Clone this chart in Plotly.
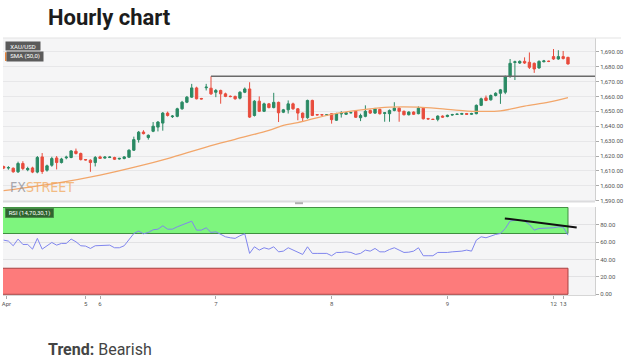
import plotly.graph_objects as go

# ---------------- data ----------------
candle_idx = list(range(118))

opens = [1612.9, 1612.0, 1611.8, 1609.4, 1615.0, 1610.8, 1612.0, 1609.2, 1619.4, 1610.5,
         1613.8, 1618.7, 1615.6, 1618.8, 1619.0, 1623.2, 1621.7, 1617.6, 1617.2, 1615.6,
         1619.4, 1618.6, 1619.0, 1619.0, 1618.0, 1618.3, 1619.2, 1623.9, 1631.0, 1636.1,
         1632.4, 1636.6, 1639.4, 1642.1, 1648.8, 1646.4, 1646.6, 1651.7, 1656.1, 1659.5,
         1665.7, 1658.6, 1665.8, 1665.5, 1662.8, 1664.0, 1661.7, 1660.1, 1660.0, 1658.8,
         1662.8, 1665.0, 1647.2, 1656.8, 1650.0, 1655.0, 1652.5, 1656.0, 1649.4, 1651.0,
         1655.0, 1651.7, 1648.8, 1645.7, 1657.3, 1647.8, 1647.7, 1647.6, 1648.4, 1644.0,
         1648.3, 1648.0, 1649.0, 1650.0, 1645.7, 1646.6, 1650.6, 1648.8, 1651.3, 1648.6,
         1648.4, 1650.6, 1652.1, 1650.0, 1647.7, 1649.5, 1648.4, 1652.1, 1645.1, 1644.7,
         1644.6, 1646.8, 1646.5, 1647.5, 1647.9, 1648.0, 1648.5, 1648.0, 1648.4, 1654.0,
         1659.0, 1657.7, 1660.6, 1662.1, 1662.8, 1673.3, 1682.8, 1682.4, 1683.5, 1682.9,
         1682.2, 1679.1, 1683.3, 1683.6, 1686.7, 1685.1, 1686.7, 1686.2]
highs = [1613.5, 1613.2, 1612.3, 1616.2, 1616.5, 1612.8, 1612.8, 1620.0, 1622.0, 1614.2,
         1619.5, 1620.0, 1618.8, 1620.2, 1624.0, 1625.0, 1622.3, 1618.0, 1617.8, 1620.0,
         1620.2, 1620.0, 1619.8, 1619.5, 1618.8, 1620.0, 1624.5, 1633.0, 1636.8, 1637.3,
         1634.5, 1642.8, 1643.5, 1649.5, 1649.8, 1647.5, 1652.4, 1657.0, 1660.3, 1668.4,
         1666.5, 1659.0, 1668.4, 1673.5, 1665.0, 1664.5, 1662.5, 1660.6, 1660.5, 1663.5,
         1666.0, 1669.5, 1657.5, 1660.0, 1655.8, 1655.6, 1662.4, 1656.5, 1651.6, 1657.3,
         1655.8, 1652.2, 1649.2, 1657.8, 1657.8, 1648.1, 1648.0, 1648.1, 1648.8, 1649.0,
         1650.1, 1649.5, 1649.5, 1650.5, 1648.4, 1654.0, 1651.2, 1652.3, 1651.8, 1649.5,
         1651.2, 1656.1, 1652.6, 1650.5, 1650.0, 1650.0, 1653.3, 1652.6, 1645.6, 1645.0,
         1647.3, 1647.3, 1647.8, 1648.3, 1648.5, 1649.0, 1648.9, 1649.0, 1654.6, 1659.2,
         1660.6, 1661.3, 1662.8, 1665.0, 1674.0, 1685.1, 1684.0, 1684.2, 1686.2, 1689.5,
         1682.8, 1684.2, 1684.5, 1684.0, 1691.8, 1691.0, 1690.5, 1686.6]
lows = [1611.2, 1610.8, 1608.8, 1608.6, 1610.5, 1609.8, 1608.5, 1608.4, 1608.0, 1609.5,
        1612.8, 1611.0, 1615.0, 1617.8, 1618.5, 1621.0, 1617.0, 1617.0, 1609.4, 1613.0,
        1618.0, 1618.2, 1618.6, 1617.3, 1617.6, 1617.8, 1618.8, 1623.4, 1629.0, 1634.5,
        1631.0, 1636.0, 1636.5, 1637.0, 1646.5, 1645.5, 1646.0, 1651.0, 1655.5, 1659.0,
        1658.0, 1658.0, 1664.0, 1661.0, 1659.5, 1655.1, 1659.5, 1659.4, 1657.8, 1658.0,
        1662.2, 1645.5, 1646.5, 1649.5, 1649.5, 1652.0, 1652.0, 1642.8, 1648.8, 1648.5,
        1651.0, 1644.0, 1643.0, 1645.0, 1646.8, 1647.3, 1647.2, 1647.2, 1641.7, 1643.5,
        1645.8, 1647.5, 1648.6, 1645.5, 1643.4, 1646.0, 1648.2, 1648.2, 1647.8, 1643.0,
        1643.0, 1650.0, 1643.0, 1647.2, 1647.2, 1647.5, 1648.0, 1644.5, 1644.3, 1644.2,
        1643.3, 1645.6, 1646.0, 1647.0, 1647.5, 1647.7, 1647.6, 1647.6, 1648.0, 1653.5,
        1656.8, 1657.2, 1660.0, 1655.0, 1661.5, 1672.5, 1671.0, 1681.8, 1681.8, 1678.4,
        1675.8, 1678.5, 1682.8, 1683.0, 1684.5, 1684.6, 1684.8, 1681.3]
closes = [1611.9, 1612.2, 1609.4, 1615.0, 1611.6, 1611.6, 1609.2, 1619.0, 1609.6, 1613.4,
          1618.3, 1615.6, 1618.0, 1619.2, 1623.4, 1621.7, 1617.6, 1617.4, 1615.6, 1619.0,
          1618.4, 1619.2, 1619.3, 1617.8, 1618.4, 1619.4, 1623.9, 1631.0, 1636.0, 1635.0,
          1633.9, 1640.0, 1642.8, 1648.8, 1647.2, 1646.8, 1651.7, 1656.1, 1659.5, 1665.7,
          1658.4, 1658.3, 1666.2, 1661.7, 1664.0, 1661.7, 1660.0, 1659.9, 1658.4, 1662.8,
          1665.0, 1646.1, 1656.8, 1650.0, 1655.0, 1652.5, 1656.0, 1649.0, 1651.0, 1655.0,
          1651.7, 1648.8, 1645.7, 1657.3, 1647.2, 1647.6, 1647.6, 1647.7, 1644.4, 1648.4,
          1648.5, 1649.0, 1649.1, 1646.0, 1647.2, 1650.0, 1648.8, 1651.7, 1648.4, 1649.0,
          1650.6, 1652.1, 1650.0, 1647.7, 1649.5, 1648.0, 1652.1, 1645.0, 1644.9, 1644.5,
          1646.8, 1646.1, 1647.3, 1647.8, 1648.1, 1648.5, 1648.0, 1648.5, 1654.0, 1658.4,
          1657.3, 1660.6, 1662.1, 1664.4, 1673.3, 1682.2, 1683.2, 1683.5, 1682.4, 1679.5,
          1678.4, 1683.5, 1683.8, 1683.5, 1685.1, 1686.7, 1685.4, 1681.8]

sma_idx = [0, 11, 20, 28, 34, 42, 48, 55, 58, 61, 68, 75, 80, 86, 92, 98, 103, 108, 113, 117]
sma_val = [1596.7, 1601.8, 1607.2, 1613.2, 1618.3, 1626.0, 1631.2, 1637.2, 1640.6, 1642.4,
           1648.0, 1651.3, 1652.8, 1652.8, 1651.3, 1650.0, 1650.3, 1653.5, 1656.1, 1659.2]

rsi_val = [62.4, 61.3, 55.9, 63.6, 57.4, 57.4, 52.0, 64.4, 52.0, 55.9,
           59.7, 56.6, 58.6, 58.6, 63.6, 60.5, 55.9, 55.5, 52.8, 55.9,
           55.9, 55.9, 56.6, 53.6, 53.6, 55.9, 62.4, 70.0, 72.8, 69.7,
           71.2, 74.3, 75.0, 78.9, 75.0, 75.0, 77.7, 79.6, 81.5, 84.2,
           73.9, 73.9, 76.6, 71.2, 72.0, 68.9, 66.2, 65.1, 64.4, 67.4,
           69.7, 47.1, 54.7, 50.9, 53.6, 52.0, 54.7, 48.9, 49.7, 53.6,
           50.9, 48.2, 45.9, 54.7, 47.1, 47.1, 47.1, 47.1, 44.4, 48.2,
           48.2, 48.9, 48.2, 45.9, 47.1, 50.9, 49.7, 52.8, 48.9, 48.9,
           51.6, 53.6, 50.9, 48.2, 48.5, 49.7, 53.6, 44.4, 44.4, 44.4,
           48.2, 47.8, 48.2, 48.9, 48.9, 49.7, 50.9, 49.7, 62.4, 66.2,
           65.1, 67.4, 68.9, 70.0, 75.8, 84.3, 85.4, 85.4, 84.3, 80.4,
           73.9, 75.8, 75.8, 76.6, 76.6, 77.7, 77.4, 68.1]

rsi_upper = 70
rsi_lower = 30
rsi_top = 100
rsi_bottom = 0

resistance_start_idx = 43
resistance_level = 1673.5

rsi_trend_idx = [103.9, 118.8]
rsi_trend_val = [87.4, 77.0]

price_ticks = [1590, 1600, 1610, 1620, 1630, 1640, 1650, 1660, 1670, 1680, 1690]
rsi_ticks = [0, 20, 40, 60, 80]
day_tick_pos = [0.6, 17, 20, 44, 68, 92, 114, 116]
day_tick_text = ["Apr", "5", "6", "7", "8", "9", "12", "13"]

x_range = [-0.12, 122.6]
price_range = [1589.5, 1699.2]
rsi_range = [-0.8, 100.4]

# ---------------- figure ----------------
W, H = 624, 364
L, R, T, B = 3, 29, 38, 69
main_dom = [0.364, 1.0]
rsi_dom = [0.0, 0.342]

UP = "#2a8a64"
DOWN = "#e84c3d"

fig = go.Figure()

fig.add_trace(go.Candlestick(
    x=candle_idx, open=opens, high=highs, low=lows, close=closes,
    increasing=dict(line=dict(color=UP, width=1), fillcolor=UP),
    decreasing=dict(line=dict(color=DOWN, width=1), fillcolor=DOWN),
    whiskerwidth=0, xaxis="x", yaxis="y", showlegend=False, hoverinfo="skip"))

fig.add_trace(go.Scatter(
    x=sma_idx, y=sma_val, mode="lines", line=dict(color="#f2a66a", width=1.3, shape="spline"),
    xaxis="x", yaxis="y", showlegend=False, hoverinfo="skip"))

fig.add_trace(go.Scatter(
    x=[resistance_start_idx, x_range[1]], y=[resistance_level, resistance_level], mode="lines",
    line=dict(color="#6a6a6a", width=1.5), xaxis="x", yaxis="y", showlegend=False, hoverinfo="skip"))

fig.add_trace(go.Scatter(
    x=candle_idx, y=rsi_val, mode="lines", line=dict(color="#8086ee", width=1),
    xaxis="x", yaxis="y2", showlegend=False, hoverinfo="skip"))

fig.add_trace(go.Scatter(
    x=rsi_trend_idx, y=rsi_trend_val, mode="lines", line=dict(color="#111111", width=2),
    xaxis="x", yaxis="y2", showlegend=False, hoverinfo="skip", cliponaxis=False))

def py(pix):
    return (H - B - pix) / (H - T - B)

def px(pix):
    return (pix - L) / (W - L - R)

shapes = []
# RSI bands
shapes.append(dict(type="rect", xref="x", yref="y2", x0=x_range[0] - 2, x1=candle_idx[-1],
                   y0=rsi_upper, y1=rsi_top, fillcolor="#7ef57e",
                   line=dict(color="#3f8f3f", width=1), layer="between"))
shapes.append(dict(type="rect", xref="x", yref="y2", x0=x_range[0] - 2, x1=candle_idx[-1],
                   y0=rsi_bottom, y1=rsi_lower, fillcolor="#fd7b7b",
                   line=dict(color="#a84040", width=1), layer="between"))
# separator under main panel
shapes.append(dict(type="line", xref="paper", yref="paper", x0=0, x1=1, y0=main_dom[0], y1=main_dom[0],
                   line=dict(color="#dcdcde", width=2)))
# top border of chart container
shapes.append(dict(type="line", xref="paper", yref="paper", x0=0, x1=px(621), y0=1.0, y1=1.0,
                   line=dict(color="#e3e3e3", width=1)))
# small drag handle
shapes.append(dict(type="rect", xref="paper", yref="paper", x0=px(295), x1=px(303),
                   y0=py(204.2), y1=py(202.2), fillcolor="#b0b0b0", line=dict(width=0)))
# SMA legend orange marker
shapes.append(dict(type="rect", xref="paper", yref="paper", x0=px(5), x1=px(6.6),
                   y0=py(61), y1=py(52.3), fillcolor="#e8843a", line=dict(width=0)))

annotations = [
    dict(text="<b>Hourly chart</b>", xref="paper", yref="paper", x=px(45.5), y=py(17.5),
         xanchor="left", yanchor="middle", showarrow=False,
         font=dict(family="Roboto", size=22, color="#1c1c1c")),
    dict(text="<b>Trend:</b> Bearish", xref="paper", yref="paper", x=px(46), y=py(349.5),
         xanchor="left", yanchor="middle", showarrow=False,
         font=dict(family="Roboto", size=16, color="#444444")),
    dict(text="XAU/USD", xref="paper", yref="paper", x=px(5), y=py(46),
         xanchor="left", yanchor="middle", showarrow=False, bgcolor="#5b5b5b",
         width=32, height=6, borderpad=1, align="center",
         font=dict(family="Roboto", size=6, color="#ffffff")),
    dict(text="SMA (50,0)", xref="paper", yref="paper", x=px(5.5), y=py(56.6),
         xanchor="left", yanchor="middle", showarrow=False, bgcolor="#5b5b5b",
         width=34, height=6.5, borderpad=1, align="center",
         font=dict(family="Roboto", size=6, color="#ffffff")),
    dict(text="RSI (14,70,30,1)", xref="paper", yref="paper", x=px(5), y=py(213.3),
         xanchor="left", yanchor="middle", showarrow=False, bgcolor="#2f642f",
         bordercolor="#4f8f4f", borderwidth=0.5,
         width=46, height=7, borderpad=1, align="center",
         font=dict(family="Roboto", size=6, color="#ffffff")),
    dict(text="<span style='color:#8d8d95'>FX</span><span style='color:#f2a85c'>STREET</span>",
         xref="paper", yref="paper", x=px(8), y=py(187.5), xanchor="left", yanchor="middle",
         showarrow=False, opacity=0.75,
         font=dict(family="Liberation Sans Narrow, DejaVu Sans Condensed, Roboto", size=14)),
]

axis_font = dict(family="Roboto", size=6, color="#555555")

fig.update_layout(
    width=W, height=H,
    margin=dict(l=L, r=R, t=T, b=B, autoexpand=False),
    paper_bgcolor="#ffffff", plot_bgcolor="#f5f5f6",
    showlegend=False,
    shapes=shapes, annotations=annotations,
    xaxis=dict(domain=[0, 1], range=x_range, anchor="y2",
               tickmode="array", tickvals=day_tick_pos, ticktext=day_tick_text,
               ticks="outside", ticklen=3, tickcolor="#aaaaaa", tickfont=axis_font,
               showgrid=False, zeroline=False, showline=True, linecolor="#d6d6d6", linewidth=1,
               rangeslider=dict(visible=False), fixedrange=True),
    yaxis=dict(domain=main_dom, range=price_range, side="right", anchor="x",
               tickmode="array", tickvals=price_ticks, tickformat=",.2f",
               ticks="outside", ticklen=3, tickcolor="#aaaaaa", tickfont=axis_font,
               showgrid=True, gridcolor="#e7e7e9", gridwidth=1, zeroline=False,
               showline=True, linecolor="#d0d0d0", linewidth=1),
    yaxis2=dict(domain=rsi_dom, range=rsi_range, side="right", anchor="x",
                tickmode="array", tickvals=rsi_ticks, tickformat=".2f",
                ticks="outside", ticklen=3, tickcolor="#aaaaaa", tickfont=axis_font,
                showgrid=True, gridcolor="#e2e2e4", gridwidth=1, zeroline=False,
                showline=True, linecolor="#d0d0d0", linewidth=1),
)

fig.write_html("out.html", config={"displayModeBar": False, "staticPlot": True},
               post_script="document.body.style.margin='0';document.body.style.padding='0';")
